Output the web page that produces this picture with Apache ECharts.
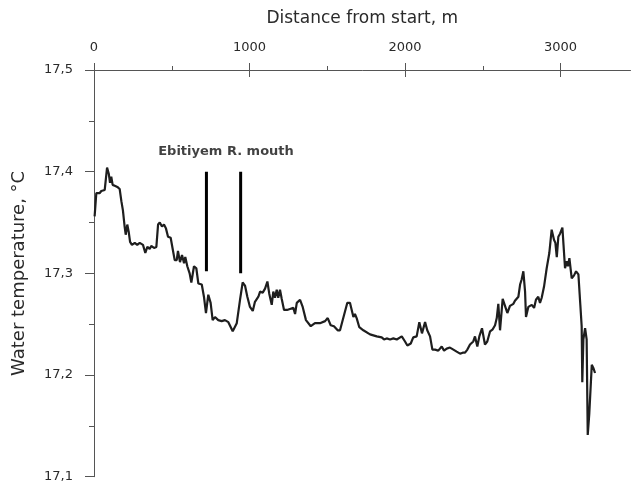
<!DOCTYPE html>
<html>
<head>
<meta charset="utf-8">
<script src="https://cdn.jsdelivr.net/npm/echarts@6/dist/echarts.min.js"></script>
<style>
html,body{margin:0;padding:0;background:#fff;}
#chart{width:631px;height:484px;}
</style>
</head>
<body>
<div id="chart"></div>
<script>
// Distance from start, m
const distance = [4,15,26,37,47,58,69,84,95,103,111,120,129,137,150,165,176,186,197,204,214,223,232,244,262,278,294,315,330,343,358,368,386,401,412,423,437,450,463,476,493,506,519,532,540,553,566,579,587,600,615,626,643,658,671,693,707,720,735,750,763,778,799,821,842,864,892,918,939,956,971,986,1003,1021,1035,1057,1068,1085,1100,1115,1127,1143,1153,1164,1175,1185,1196,1207,1222,1241,1260,1282,1293,1304,1314,1325,1342,1363,1394,1421,1453,1486,1503,1522,1543,1567,1582,1608,1629,1646,1668,1678,1689,1706,1732,1775,1818,1850,1865,1882,1904,1925,1947,1979,2000,2015,2037,2053,2075,2092,2109,2129,2143,2161,2176,2193,2214,2236,2251,2268,2289,2311,2332,2354,2371,2386,2401,2418,2439,2450,2465,2478,2495,2514,2529,2547,2564,2579,2590,2600,2611,2628,2643,2658,2675,2697,2707,2718,2729,2740,2750,2761,2772,2778,2793,2815,2830,2842,2857,2868,2879,2894,2911,2928,2943,2958,2967,2976,2986,2997,3012,3029,3040,3048,3057,3072,3087,3100,3115,3125,3136,3140,3147,3158,3168,3175,3185,3201,3211,3222];
// Water temperature, °C
const temperature = [17.356,17.379,17.380,17.379,17.381,17.380,17.382,17.404,17.398,17.389,17.395,17.387,17.388,17.386,17.385,17.383,17.371,17.362,17.346,17.338,17.348,17.341,17.331,17.328,17.330,17.328,17.330,17.328,17.320,17.326,17.324,17.327,17.325,17.326,17.348,17.350,17.346,17.348,17.344,17.336,17.335,17.324,17.313,17.313,17.322,17.311,17.318,17.310,17.316,17.307,17.300,17.291,17.307,17.305,17.290,17.289,17.277,17.261,17.279,17.271,17.254,17.257,17.254,17.253,17.254,17.252,17.243,17.251,17.274,17.291,17.288,17.277,17.267,17.263,17.272,17.277,17.282,17.281,17.285,17.292,17.280,17.269,17.282,17.276,17.284,17.276,17.284,17.275,17.264,17.264,17.265,17.266,17.260,17.271,17.272,17.274,17.267,17.254,17.248,17.251,17.251,17.253,17.256,17.249,17.248,17.244,17.244,17.259,17.271,17.271,17.257,17.260,17.256,17.247,17.244,17.240,17.238,17.237,17.235,17.236,17.235,17.236,17.235,17.238,17.233,17.229,17.231,17.237,17.238,17.252,17.241,17.252,17.244,17.238,17.225,17.225,17.224,17.228,17.224,17.226,17.227,17.225,17.223,17.221,17.222,17.222,17.225,17.230,17.233,17.238,17.228,17.238,17.246,17.230,17.233,17.243,17.245,17.249,17.256,17.270,17.244,17.275,17.268,17.261,17.268,17.270,17.273,17.274,17.277,17.289,17.294,17.302,17.282,17.257,17.267,17.269,17.266,17.274,17.277,17.271,17.276,17.287,17.305,17.320,17.343,17.333,17.330,17.316,17.336,17.339,17.345,17.305,17.312,17.307,17.315,17.295,17.298,17.302,17.299,17.299,17.248,17.193,17.235,17.246,17.235,17.141,17.162,17.210,17.207,17.202];

// River mouth markers
const mouthLabel = 'Ebitiyem R. mouth';
const mouthDistance = [723, 943];
const mouthTop = [17.400, 17.400];
const mouthBottom = [17.302, 17.300];
const mouthLabelPos = [849, 17.420];

// Axes
const xMin = 0, xMax = 3450;
const xMajorTicks = [0, 1000, 2000, 3000];
const xMinorTicks = [500, 1500, 2500];
const yMin = 17.1, yMax = 17.5, yInterval = 0.1;
const xName = 'Distance from start, m';
const yName = 'Water temperature, °C';

const FONT = 'DejaVu Sans';
const AXIS_COLOR = '#555';
const TEXT_COLOR = '#2a2a2a';

const lineData = distance.map((d, i) => [d, temperature[i]]);

const markerSeries = mouthDistance.map((d, i) => ({
  type: 'line',
  xAxisIndex: 0,
  data: [[d, mouthTop[i]], [d, mouthBottom[i]]],
  symbol: 'none',
  lineStyle: { color: '#000', width: 3 },
  silent: true,
  z: 3
}));

const baseX = { type: 'value', position: 'top', min: xMin, max: xMax, splitLine: { show: false } };

const chart = echarts.init(document.getElementById('chart'), null, { renderer: 'canvas' });
chart.setOption({
  animation: false,
  backgroundColor: '#fff',
  textStyle: { fontFamily: FONT },
  grid: { left: 94, top: 70, right: 0.5, bottom: 7.3, containLabel: false },
  xAxis: [Object.assign({}, baseX, {
    name: xName, nameLocation: 'middle', nameGap: 43,
    nameTextStyle: { fontFamily: FONT, fontSize: 17, color: TEXT_COLOR },
    axisLine: { show: true, onZero: false, lineStyle: { color: AXIS_COLOR, width: 1 } },
    axisTick: { show: true, inside: false, length: 7, customValues: xMajorTicks, lineStyle: { color: AXIS_COLOR } },
    axisLabel: { show: true, margin: 16, fontFamily: FONT, fontSize: 13, color: TEXT_COLOR,
      customValues: xMajorTicks, formatter: v => String(v) }
  }), Object.assign({}, baseX, {
    axisLine: { show: false },
    axisTick: { show: true, inside: true, length: 7, customValues: xMajorTicks, lineStyle: { color: AXIS_COLOR } },
    axisLabel: { show: false }
  }), Object.assign({}, baseX, {
    axisLine: { show: false },
    axisTick: { show: true, inside: false, length: 4, customValues: xMinorTicks, lineStyle: { color: AXIS_COLOR } },
    axisLabel: { show: false }
  })],
  yAxis: {
    type: 'value', min: yMin, max: yMax, interval: yInterval,
    name: yName, nameLocation: 'middle', nameGap: 66, nameRotate: 90,
    nameTextStyle: { fontFamily: FONT, fontSize: 18, color: TEXT_COLOR },
    axisLine: { show: true, onZero: false, lineStyle: { color: AXIS_COLOR, width: 1 } },
    axisTick: { show: true, inside: false, length: 9, lineStyle: { color: AXIS_COLOR } },
    minorTick: { show: true, splitNumber: 2, length: 5, lineStyle: { color: AXIS_COLOR } },
    axisLabel: { margin: 21, fontFamily: FONT, fontSize: 13, color: TEXT_COLOR,
      formatter: v => v.toFixed(1).replace('.', ',') },
    splitLine: { show: false }
  },
  series: [{
    type: 'line',
    xAxisIndex: 0,
    data: lineData,
    symbol: 'none',
    smooth: false,
    lineStyle: { color: '#1e1e1e', width: 2.2 },
    z: 4
  }].concat(markerSeries).concat([{
    type: 'scatter',
    xAxisIndex: 0,
    data: [mouthLabelPos],
    symbolSize: 0,
    silent: true,
    label: { show: true, position: 'inside', formatter: mouthLabel,
      fontFamily: FONT, fontWeight: 'bold', fontSize: 13, color: '#111' }
  }])
});
</script>
</body>
</html>
